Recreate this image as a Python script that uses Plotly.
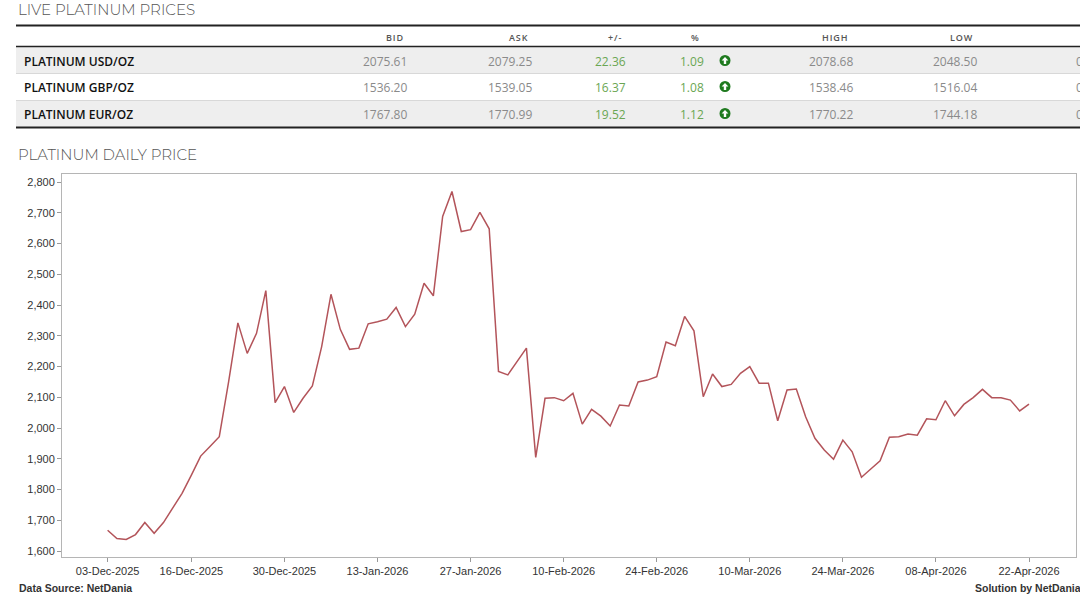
import pandas as pd
import plotly.graph_objects as go

W, H = 1080, 602

# trading days shown on the chart (weekdays, Good Friday 2026 missing)
days = pd.bdate_range("2025-12-03", "2026-04-22")
days = days[days != pd.Timestamp("2026-04-03")]
dates = [d.strftime("%d-%b-%Y") for d in days]

prices = [
    1668, 1641, 1638, 1654, 1693, 1658, 1693, 1739, 1788, 1847,
    1909, 1940, 1972, 2150, 2342, 2243, 2308, 2447, 2083, 2135,
    2051, 2097, 2137, 2265, 2435, 2321, 2256, 2260, 2339, 2346,
    2354, 2392, 2330, 2370, 2471, 2430, 2688, 2769, 2639, 2645,
    2701, 2648, 2184, 2173, 2216, 2260, 1905, 2097, 2099, 2089,
    2113, 2013, 2061, 2039, 2007, 2075, 2072, 2150, 2156, 2167,
    2280, 2268, 2363, 2316, 2102, 2176, 2135, 2142, 2178, 2200,
    2146, 2146, 2024, 2124, 2127, 2037, 1967, 1929, 1899, 1961,
    1923, 1840, 1867, 1894, 1970, 1972, 1981, 1977, 2030, 2027,
    2089, 2040, 2077, 2099, 2126, 2099, 2099, 2091, 2056, 2078,
]

tick_dates = ["03-Dec-2025", "16-Dec-2025", "30-Dec-2025", "13-Jan-2026",
              "27-Jan-2026", "10-Feb-2026", "24-Feb-2026", "10-Mar-2026",
              "24-Mar-2026", "08-Apr-2026", "22-Apr-2026"]

# live prices table
rows = ["PLATINUM USD/OZ", "PLATINUM GBP/OZ", "PLATINUM EUR/OZ"]
bid = ["2075.61", "1536.20", "1767.80"]
ask = ["2079.25", "1539.05", "1770.99"]
change = ["22.36", "16.37", "19.52"]
pct = ["1.09", "1.08", "1.12"]
high = ["2078.68", "1538.46", "1770.22"]
low = ["2048.50", "1516.04", "1744.18"]
headers = ["BID", "ASK", "+/-", "%", "HIGH", "LOW"]


# screen pixels -> paper coords
def px(x):
    return x / W


def py(y):
    return 1 - y / H


fig = go.Figure()

fig.add_trace(go.Scatter(
    x=dates, y=prices, mode="lines",
    line=dict(color="#b3545a", width=1.5),
    hoverinfo="x+y",
))

shapes = []
ann = []

TITLE_FONT = dict(family="Montserrat, Lato, Open Sans", size=15, color="#555555", weight=300)

ann.append(dict(text="LIVE PLATINUM PRICES", x=px(16), y=py(9), font=TITLE_FONT,
                xanchor="left", yanchor="middle"))
ann.append(dict(text="PLATINUM DAILY PRICE", x=px(16), y=py(154), font=TITLE_FONT,
                xanchor="left", yanchor="middle"))

# row backgrounds
row_top = [46.5, 73.5, 100.5]
row_mid = [61, 87, 114]
for i, top in enumerate(row_top):
    if i != 1:
        shapes.append(dict(type="rect", xref="paper", yref="paper", layer="below",
                           x0=px(16), x1=px(1082), y0=py(top), y1=py(top + 27),
                           fillcolor="#eeeeee", line=dict(width=0)))
for y in [73.5, 100.5]:
    shapes.append(dict(type="line", xref="paper", yref="paper",
                       x0=px(16), x1=px(1082), y0=py(y), y1=py(y),
                       line=dict(color="#d8d8d8", width=1)))
for y, w in [(25.5, 2.2), (46.5, 1.5), (127.5, 2.2)]:
    shapes.append(dict(type="line", xref="paper", yref="paper",
                       x0=px(16), x1=px(1082), y0=py(y), y1=py(y),
                       line=dict(color="#222222", width=w)))

head_x = [394, 518, 614, 695, 835, 961]
for h, hx in zip(headers, head_x):
    ann.append(dict(text="&#8202;".join(h), x=px(hx), y=py(37), xanchor="center", yanchor="middle",
                    font=dict(family="Open Sans", size=9, color="#555555", weight=600)))

value_cols = [(bid, 409, "#8a8a8a"), (ask, 534, "#8a8a8a"), (change, 628, "#6aa653"),
              (pct, 706, "#6aa653"), (high, 855, "#8a8a8a"), (low, 979, "#8a8a8a")]
for i, name in enumerate(rows):
    yy = py(row_mid[i])
    ann.append(dict(text=name, x=px(22), y=yy, xanchor="left", yanchor="middle",
                    font=dict(family="Open Sans", size=12, color="#111111", weight=600)))
    for col, rx, c in value_cols:
        ann.append(dict(text=col[i], x=px(rx), y=yy, xanchor="right", yanchor="middle",
                        font=dict(family="Open Sans", size=12, color=c)))
    ann.append(dict(text="0", x=px(1074), y=yy, xanchor="left", yanchor="middle",
                    font=dict(family="Open Sans", size=12, color="#8a8a8a")))
    # green up arrow icon
    cx, cy, r = 725, row_mid[i] - 0.5, 5.5
    shapes.append(dict(type="circle", xref="paper", yref="paper",
                       x0=px(cx - r), x1=px(cx + r), y0=py(cy - r), y1=py(cy + r),
                       fillcolor="#1f7a1f", line=dict(width=0)))
    path = (f"M {px(cx)} {py(cy - 3.6)} L {px(cx + 3.4)} {py(cy)} L {px(cx + 1.2)} {py(cy)} "
            f"L {px(cx + 1.2)} {py(cy + 3.4)} L {px(cx - 1.2)} {py(cy + 3.4)} L {px(cx - 1.2)} {py(cy)} "
            f"L {px(cx - 3.4)} {py(cy)} Z")
    shapes.append(dict(type="path", xref="paper", yref="paper", path=path,
                       fillcolor="white", line=dict(width=0)))

FOOT_FONT = dict(family="Liberation Sans, Arial", size=10.5, color="#333333", weight="bold")
ann.append(dict(text="Data Source: NetDania", x=px(17), y=py(588),
                xanchor="left", yanchor="middle", font=FOOT_FONT))
ann.append(dict(text="Solution by NetDania", x=px(973), y=py(588),
                xanchor="left", yanchor="middle", font=FOOT_FONT))

for a in ann:
    a.update(xref="paper", yref="paper", showarrow=False)

TICK_FONT = dict(family="Liberation Sans, Arial", size=11, color="#333333")

fig.update_xaxes(
    type="category", range=[-4.9, 104.05], domain=[px(62), px(1076)],
    tickvals=tick_dates, ticktext=tick_dates, ticks="outside", ticklen=4,
    tickcolor="#999999", tickfont=TICK_FONT, showgrid=False, zeroline=False,
    showline=True, linecolor="#b5b5b5", linewidth=1, mirror=True,
)
fig.update_yaxes(
    range=[1581, 2826], domain=[py(557), py(174)], dtick=100, tickformat=",",
    ticks="outside", ticklen=4, tickcolor="#999999", tickfont=TICK_FONT,
    showgrid=False, zeroline=False, showline=True, linecolor="#b5b5b5",
    linewidth=1, mirror=True,
)

fig.update_layout(
    width=W, height=H, margin=dict(l=0, r=0, t=0, b=0),
    paper_bgcolor="white", plot_bgcolor="white", showlegend=False,
    shapes=shapes, annotations=ann,
)

# drop the default page margin so the figure fills the window
fig.write_html("out.html", config={"displayModeBar": False},
               post_script="document.body.style.margin='0';document.body.style.overflow='hidden';")
